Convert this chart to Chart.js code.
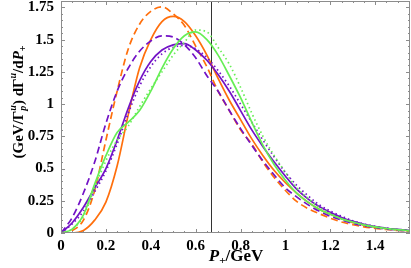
<!DOCTYPE html>
<html>
<head>
<meta charset="utf-8">
<script src="https://cdn.jsdelivr.net/npm/chart.js@4.4.1/dist/chart.umd.min.js"></script>
<style>
  html, body { margin: 0; padding: 0; background: #fff; }
  #wrap { width: 411px; height: 268px; }
</style>
</head>
<body>
<div id="wrap"><canvas id="myChart" width="411" height="268"></canvas></div>
<script>
// P+ grid (GeV)
var xs = [0, 0.05, 0.1, 0.15, 0.2, 0.25, 0.3, 0.35, 0.4, 0.45, 0.5, 0.55, 0.6, 0.65, 0.7, 0.75,
          0.8, 0.85, 0.9, 0.95, 1.0, 1.05, 1.1, 1.15, 1.2, 1.25, 1.3, 1.35, 1.4, 1.45, 1.5, 1.55]

// curves
var orangeSolid  = [0, 0, 0.02, 0.1, 0.24, 0.52, 0.92, 1.28, 1.5, 1.64, 1.68, 1.64, 1.53, 1.38, 1.2, 1.03,
                    0.88, 0.73, 0.6, 0.485, 0.39, 0.31, 0.24, 0.185, 0.145, 0.11, 0.08, 0.06, 0.045, 0.033, 0.024, 0.017]
var orangeDashed = [0, 0.02, 0.1, 0.33, 0.72, 1.1, 1.43, 1.62, 1.72, 1.755, 1.70, 1.61, 1.45, 1.29, 1.1, 0.95,
                    0.8, 0.69, 0.55, 0.43, 0.33, 0.245, 0.19, 0.15, 0.115, 0.085, 0.064, 0.048, 0.036, 0.027, 0.02, 0.015]
var purpleDashed = [0, 0.12, 0.31, 0.55, 0.85, 1.1, 1.28, 1.41, 1.49, 1.53, 1.52, 1.46, 1.36, 1.22, 1.1, 0.95,
                    0.81, 0.68, 0.56, 0.45, 0.35, 0.28, 0.22, 0.17, 0.13, 0.1, 0.075, 0.056, 0.042, 0.031, 0.023, 0.017]
var purpleSolid  = [0, 0.08, 0.2, 0.35, 0.5, 0.72, 0.97, 1.18, 1.33, 1.42, 1.46, 1.47, 1.42, 1.34, 1.23, 1.1,
                    0.95, 0.8, 0.67, 0.55, 0.44, 0.34, 0.265, 0.205, 0.16, 0.12, 0.09, 0.068, 0.05, 0.037, 0.028, 0.02]
var purpleDotted = [0, 0.07, 0.17, 0.32, 0.48, 0.69, 0.93, 1.14, 1.29, 1.39, 1.44, 1.455, 1.43, 1.36, 1.26, 1.14,
                    1.0, 0.86, 0.72, 0.59, 0.47, 0.37, 0.29, 0.22, 0.17, 0.13, 0.095, 0.07, 0.052, 0.038, 0.028, 0.02]
var greenSolid   = [0, 0.03, 0.14, 0.38, 0.6, 0.78, 0.86, 0.95, 1.1, 1.28, 1.43, 1.53, 1.56, 1.5, 1.38, 1.22,
                    1.05, 0.86, 0.68, 0.53, 0.41, 0.31, 0.24, 0.185, 0.145, 0.11, 0.085, 0.063, 0.047, 0.035, 0.026, 0.019]
var greenDotted  = [0, 0.03, 0.13, 0.35, 0.56, 0.72, 0.83, 0.98, 1.12, 1.25, 1.38, 1.48, 1.575, 1.56, 1.44, 1.31,
                    1.13, 0.93, 0.75, 0.6, 0.47, 0.35, 0.27, 0.2, 0.15, 0.11, 0.083, 0.06, 0.044, 0.032, 0.023, 0.017]

var xTicks = [0, 0.2, 0.4, 0.6, 0.8, 1, 1.2, 1.4]
var yTicks = [0, 0.25, 0.5, 0.75, 1, 1.25, 1.5, 1.75]
var markX = 0.667

var ORANGE = '#ff6f0c'
var PURPLE = '#7212c6'
var GREEN = '#66ee55'
var FRAME = '#8c8c8c'
var SERIF = '"Liberation Serif", "DejaVu Serif", serif'

function pts(ys) {
    return xs.map(function (x, i) { return { x: x, y: ys[i] } })
}

function line(ys, color, dash) {
    return {
        data: pts(ys),
        borderColor: color,
        borderWidth: 1.7,
        borderDash: dash,
        pointRadius: 0,
        fill: false,
        cubicInterpolationMode: 'monotone'
    }
}

// frame, inward ticks (major + minor), the vertical marker and the axis titles
var decor = {
    id: 'decor',
    beforeDatasetsDraw: function (chart) {
        var ctx = chart.ctx, a = chart.chartArea
        ctx.save()
        ctx.strokeStyle = '#333'
        ctx.lineWidth = 1
        var px = Math.round(chart.scales.x.getPixelForValue(markX)) + 0.5
        ctx.beginPath(); ctx.moveTo(px, a.top); ctx.lineTo(px, a.bottom); ctx.stroke()
        ctx.restore()
    },
    afterDatasetsDraw: function (chart) {
        var ctx = chart.ctx, a = chart.chartArea
        var sx = chart.scales.x, sy = chart.scales.y
        ctx.save()
        ctx.strokeStyle = FRAME
        ctx.lineWidth = 1
        ctx.strokeRect(a.left + 0.5, a.top + 0.5, a.right - a.left - 1, a.bottom - a.top - 1)
        ctx.beginPath()
        for (var i = 0; i <= 31; i++) {
            var p = Math.round(sx.getPixelForValue(i * 0.05)) + 0.5
            var len = (i % 4 == 0) ? 4 : 2
            ctx.moveTo(p, a.bottom); ctx.lineTo(p, a.bottom - len)
            ctx.moveTo(p, a.top); ctx.lineTo(p, a.top + len)
        }
        for (var j = 0; j <= 36; j++) {
            var q = Math.round(sy.getPixelForValue(j * 0.05)) + 0.5
            var l2 = (j % 5 == 0) ? 4 : 2
            ctx.moveTo(a.left, q); ctx.lineTo(a.left + l2, q)
            ctx.moveTo(a.right, q); ctx.lineTo(a.right - l2, q)
        }
        ctx.stroke()
        ctx.restore()

        // titles
        var big = 'bold 15px ' + SERIF, bigI = 'italic bold 15px ' + SERIF
        var sm = 'bold 10px ' + SERIF, smI = 'italic bold 10px ' + SERIF
        var xRuns = [['italic bold 17px ' + SERIF, 'P', 0], ['bold 11px ' + SERIF, '+', 4], ['bold 17px ' + SERIF, '/GeV', 0]]
        drawRuns(ctx, xRuns, 236, 257, 0)
        var yRuns = [[big, '(GeV/Γ', 0], [smI, 'u', -6], [smI, 'p', 4, true], [big, ') dΓ', 0], [smI, 'u', -6],
                     [big, '/d', 0], [bigI, 'P', 0], [sm, '+', 4]]
        drawRuns(ctx, yRuns, 19, 102, -Math.PI / 2)
    }
}

function drawRuns(ctx, runs, cx, cy, rot) {
    ctx.save()
    ctx.fillStyle = '#000'
    ctx.textBaseline = 'middle'
    var w = 0, widths = []
    runs.forEach(function (r) {
        ctx.font = r[0]
        var ww = ctx.measureText(r[1]).width
        widths.push(ww)
        if (!r[3]) w += ww
    })
    ctx.translate(cx, cy)
    ctx.rotate(rot)
    var x = -w / 2, prev = 0
    runs.forEach(function (r, i) {
        ctx.font = r[0]
        // r[3]: stack under the previous run (sub under sup)
        var at = r[3] ? x - prev : x
        ctx.fillText(r[1], at, r[2])
        if (r[3]) { x = at + Math.max(prev, widths[i]) }
        else { x += widths[i]; prev = widths[i] }
    })
    ctx.restore()
}

var ctx = document.getElementById('myChart')
var myChart = new Chart(ctx, {
    type: 'line',
    data: {
        datasets: [
            line(greenDotted, GREEN, [1.5, 3]),
            line(greenSolid, GREEN, []),
            line(purpleDotted, PURPLE, [1.5, 3]),
            line(purpleSolid, PURPLE, []),
            line(purpleDashed, PURPLE, [7, 4]),
            line(orangeDashed, ORANGE, [7, 4]),
            line(orangeSolid, ORANGE, [])
        ]
    },
    options: {
        responsive: false,
        animation: false,
        layout: { padding: { top: 1, right: 1, left: 0, bottom: 0 } },
        plugins: { legend: { display: false }, tooltip: { enabled: false } },
        scales: {
            x: {
                type: 'linear', min: 0, max: 1.555,
                grid: { display: false, drawTicks: false },
                border: { display: false },
                afterBuildTicks: function (s) { s.ticks = xTicks.map(function (v) { return { value: v } }) },
                afterFit: function (s) { s.height = 35; s.paddingLeft = 0; s.paddingRight = 0 },
                ticks: {
                    color: '#000', padding: 4, maxRotation: 0,
                    font: { family: SERIF, size: 15, weight: 'bold' },
                    callback: function (v) { return String(v) }
                }
            },
            y: {
                type: 'linear', min: 0, max: 1.8,
                grid: { display: false, drawTicks: false },
                border: { display: false },
                afterBuildTicks: function (s) { s.ticks = yTicks.map(function (v) { return { value: v } }) },
                afterFit: function (s) { s.width = 61; s.paddingTop = 0; s.paddingBottom = 0 },
                ticks: {
                    color: '#000', padding: 7,
                    font: { family: SERIF, size: 15, weight: 'bold' },
                    callback: function (v) { return String(v) }
                }
            }
        }
    },
    plugins: [decor]
})
</script>
</body>
</html>
